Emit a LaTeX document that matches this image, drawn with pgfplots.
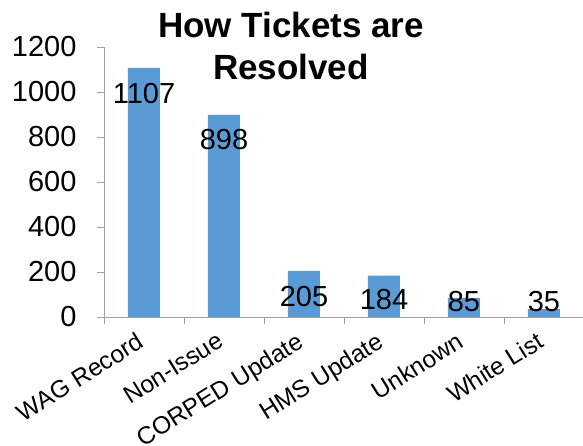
\documentclass[border=0pt]{standalone}
\usepackage{pgfplots}
\pgfplotsset{compat=1.18}
\usepackage{fontspec}
\setmainfont{Liberation Sans}
\definecolor{barblue}{HTML}{5B9BD5}
\definecolor{axisgray}{HTML}{A0A0A0}
\begin{document}
\begin{tikzpicture}
\useasboundingbox (-104pt,-129pt) rectangle (479pt,317pt);
\begin{axis}[
  at={(0,0)}, anchor=south west,
  scale only axis, width=480pt, height=270pt,
  xmin=-0.5, xmax=5.5, ymin=0, ymax=1200,
  axis x line*=bottom, axis y line*=left,
  axis line style={axisgray, line width=0.9pt},
  ytick={0,200,...,1200},
  xtick={-0.5,0.5,...,5.5},
  x tick label as interval,
  xticklabels={WAG Record,Non-Issue,CORPED Update,HMS Update,Unknown,White List},
  tick align=outside,
  major tick length=7pt,
  tick style={axisgray, line width=0.9pt},
  /pgf/number format/assume math mode=true,
  /pgf/number format/1000 sep={},
  yticklabel style={font=\fontsize{29}{34}\selectfont, xshift=-17pt},
  xticklabel style={font=\fontsize{24.5}{30}\selectfont, xshift=-8pt, yshift=-7pt, rotate=32, anchor=north east, inner sep=0pt},
  clip=false,
]
\addplot[ybar, bar width=32pt, fill=barblue, draw=none]
  coordinates {(0,1107) (1,898) (2,205) (3,184) (4,85) (5,35)};
% value labels, placed where the chart shows them
\addplot[draw=none, mark=none, nodes near coords, point meta=explicit symbolic,
  nodes near coords style={font=\fontsize{29}{34}\selectfont, anchor=center, text=black}]
  coordinates {(0,995)[1107] (1,787)[898] (2,89)[205] (3,76)[184] (4,67)[85] (5,67)[35]};
\end{axis}
\node[font=\bfseries\fontsize{35}{42}\selectfont, anchor=base] at (187pt,279pt) {How Tickets are};
\node[font=\bfseries\fontsize{35}{42}\selectfont, anchor=base] at (187pt,237pt) {Resolved};
\end{tikzpicture}
\end{document}
